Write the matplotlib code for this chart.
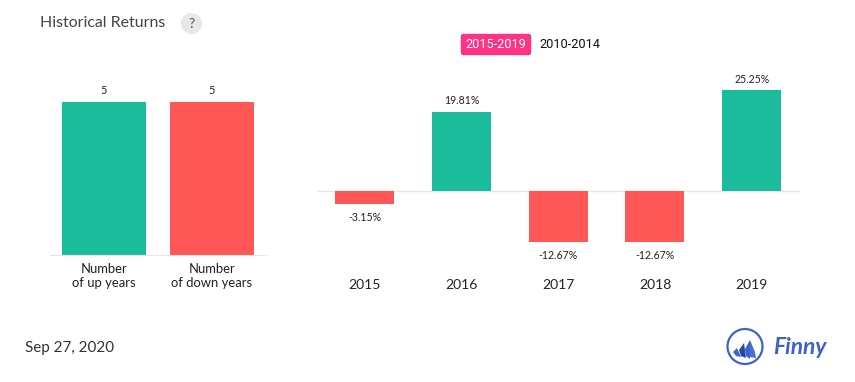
import matplotlib
matplotlib.use("Agg")
import matplotlib.pyplot as plt
from matplotlib.patches import Circle, FancyBboxPatch, Polygon

plt.rcParams['font.family'] = ['Lato', 'DejaVu Sans']

# Datos del grafico
count_labels = ["Number\nof up years", "Number\nof down years"]
count_values = [5, 5]
years = ["2015", "2016", "2017", "2018", "2019"]
returns = [-3.15, 19.81, -12.67, -12.67, 25.25]

GREEN = "#1abc9c"
RED = "#ff5656"
LINE = "#e6e6e6"
TEXT = "#222222"
W, H = 855, 382


def rect(x0, y0, x1, y1):
    # pixeles de la imagen (origen arriba) a fraccion de figura
    return [x0 / W, 1 - y1 / H, (x1 - x0) / W, (y1 - y0) / H]


fig = plt.figure(figsize=(W / 100, H / 100), dpi=100, facecolor="white")

# Barras de la izquierda
ax1 = fig.add_axes(rect(50, 90, 266, 255))
ax1.bar(range(2), count_values, width=0.78, color=[GREEN, RED])
ax1.set_xlim(-0.5, 1.5)
ax1.set_ylim(0, 5 * 165 / 153)
ax1.set_xticks(range(2), count_labels, fontsize=9.4, color=TEXT, linespacing=1.25)
ax1.set_yticks([])
ax1.tick_params(axis="x", length=0, pad=5.5)
for s in ["top", "left", "right"]:
    ax1.spines[s].set_visible(False)
ax1.spines["bottom"].set_color(LINE)
for i, v in enumerate(count_values):
    ax1.annotate(str(v), (i, v), xytext=(0, 4), textcoords="offset points",
                 ha="center", va="bottom", fontsize=7.8, color=TEXT)

# Barras de la derecha
ax2 = fig.add_axes(rect(316.6, 70, 800, 270))
colors = [GREEN if r > 0 else RED for r in returns]
ax2.bar(range(len(years)), returns, width=0.61, color=colors)
ax2.axhline(0, color=LINE, lw=1, zorder=0)
ax2.set_xlim(-0.5, 4.5)
ax2.set_ylim(-79 / 3.99, 121 / 3.99)
ax2.set_xticks(range(len(years)), years, fontsize=10, color=TEXT)
ax2.set_yticks([])
ax2.tick_params(axis="x", length=0, pad=6.6)
for s in ax2.spines.values():
    s.set_visible(False)
for i, r in enumerate(returns):
    off = 4 if r > 0 else -6
    ax2.annotate(f"{r:.2f}%", (i, r), xytext=(0, off), textcoords="offset points",
                 ha="center", va="bottom" if r > 0 else "top", fontsize=7.6, color=TEXT)

# Capa en pixeles para titulo, selector, fecha y logo
overlay = fig.add_axes([0, 0, 1, 1], facecolor="none")
overlay.set_xlim(0, W)
overlay.set_ylim(H, 0)
overlay.axis("off")
overlay.text(40, 23, "Historical Returns", fontsize=11.4, color="#444444", va="center")
overlay.add_patch(Circle((191.5, 23.5), 10.5, color="#e8e8e8", lw=0))
overlay.text(191.5, 23.5, "?", fontsize=10, color="#555555", ha="center", va="center")

# Selector de periodo
overlay.add_patch(FancyBboxPatch((461.5, 34.5), 69, 20, boxstyle="round,pad=0,rounding_size=2",
                                 fc="#ff3385", ec="#ff3385", lw=1))
overlay.text(496, 45, "2015-2019", fontsize=9.2, color="white", ha="center", va="center", family="Roboto")
overlay.text(569.5, 45, "2010-2014", fontsize=9.2, color="#111111", ha="center", va="center", family="Roboto")

# Fecha
overlay.text(25, 348, "Sep 27, 2020", fontsize=10.9, color="#333333", va="center")

# Logo
BLUE = "#3f62c4"
overlay.add_patch(Circle((745, 346.5), 17.5, fill=False, ec=BLUE, lw=1.6))
overlay.add_patch(Polygon([[750, 340], [755, 352], [756, 358], [749, 357]], color="#4a6fd0", lw=0))
overlay.add_patch(Polygon([[750, 340], [745, 349], [746, 356], [750, 359]], color=BLUE, lw=0))
overlay.add_patch(Polygon([[744, 343], [739, 350], [741, 356], [746, 358]], color="#2347a8", lw=0))
overlay.add_patch(Polygon([[737, 348], [733, 352], [736, 356], [741, 357]], color=BLUE, lw=0))
overlay.text(773, 347, "Finny", fontsize=16.4, color=BLUE, style="italic", weight="bold", va="center")

fig.savefig("out.png", dpi=100)
